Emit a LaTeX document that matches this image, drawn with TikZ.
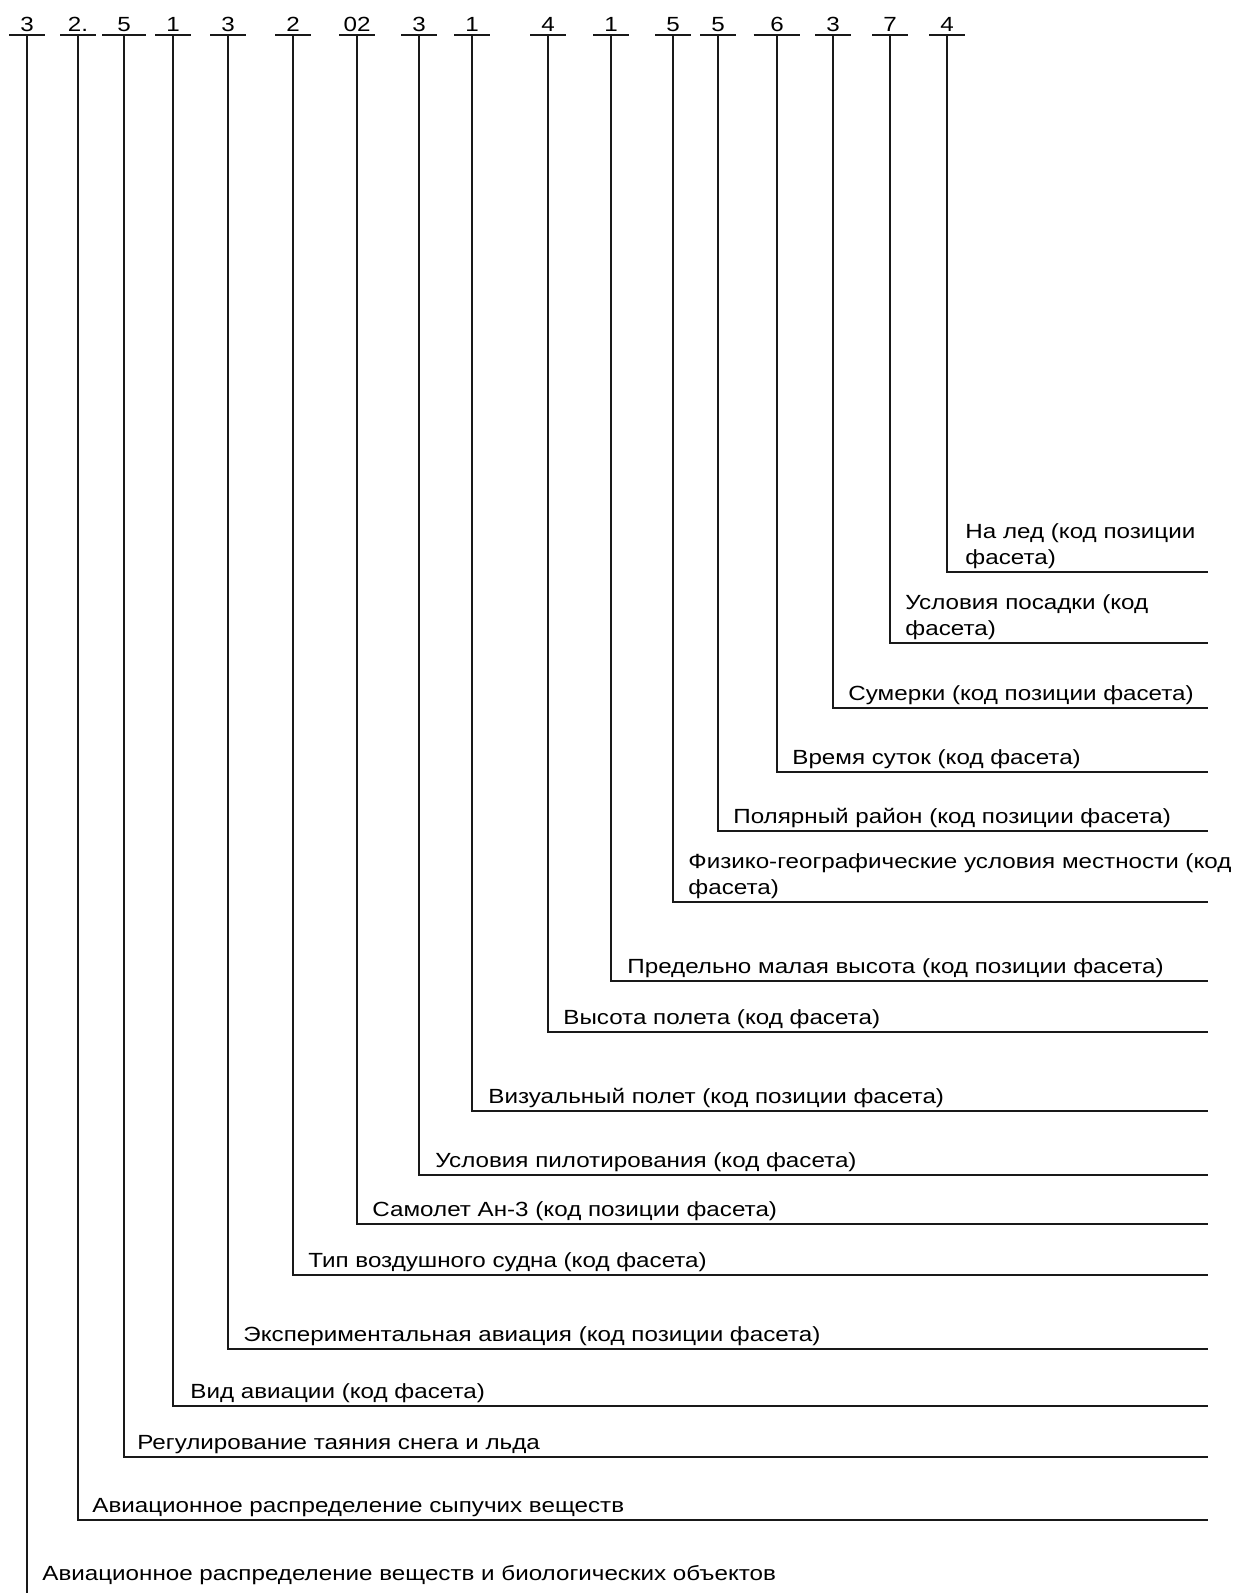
\documentclass[tikz,border=0pt]{standalone}
\usepackage{fontspec}
\setmainfont{Liberation Sans}[FakeStretch=1.18]

\begin{document}
\begin{tikzpicture}[x=0.5pt,y=-0.5pt]
        \tikzstyle{digit}=[anchor=south, inner xsep=0pt, inner ysep=1.5pt, minimum width=17.5pt, font=\fontsize{10.25}{13}\selectfont]
        \tikzstyle{lbl}=[anchor=base west, inner sep=0pt, align=left, font=\fontsize{10.25}{13}\selectfont]
        \tikzstyle{rule}=[line width=1pt, black!90]

        \useasboundingbox (0,0) rectangle (1241,1593);

        % code digits on top
        \node[digit] (d1)  at (27,35)  {3};
        \node[digit] (d2)  at (78,35)  {2.};
        \node[digit, minimum width=21.5pt] (d3) at (124,35) {5};
        \node[digit] (d4)  at (173,35) {1};
        \node[digit] (d5)  at (228,35) {3};
        \node[digit] (d6)  at (293,35) {2};
        \node[digit] (d7)  at (357,35) {02};
        \node[digit] (d8)  at (419,35) {3};
        \node[digit] (d9)  at (472,35) {1};
        \node[digit] (d10) at (548,35) {4};
        \node[digit] (d11) at (611,35) {1};
        \node[digit] (d12) at (673,35) {5};
        \node[digit] (d13) at (718,35) {5};
        \node[digit, minimum width=23pt] (d14) at (777,35) {6};
        \node[digit] (d15) at (833,35) {3};
        \node[digit] (d16) at (890,35) {7};
        \node[digit] (d17) at (947,35) {4};

        % right ends of the rules
        \coordinate (e1)  at (27,1593);
        \coordinate (e2)  at (1208,1520);
        \coordinate (e3)  at (1208,1457);
        \coordinate (e4)  at (1208,1406);
        \coordinate (e5)  at (1208,1349);
        \coordinate (e6)  at (1208,1275);
        \coordinate (e7)  at (1208,1224);
        \coordinate (e8)  at (1208,1175);
        \coordinate (e9)  at (1208,1111);
        \coordinate (e10) at (1208,1032);
        \coordinate (e11) at (1208,981);
        \coordinate (e12) at (1208,902);
        \coordinate (e13) at (1208,831);
        \coordinate (e14) at (1208,772);
        \coordinate (e15) at (1208,708);
        \coordinate (e16) at (1208,643);
        \coordinate (e17) at (1208,572);

        % labels
        \node[lbl] (l1)  at (42,1580)  {Авиационное распределение веществ и биологических объектов};
        \node[lbl] (l2)  at (92,1512)  {Авиационное распределение сыпучих веществ};
        \node[lbl] (l3)  at (137,1449) {Регулирование таяния снега и льда};
        \node[lbl] (l4)  at (190,1398) {Вид авиации (код фасета)};
        \node[lbl] (l5)  at (243,1341) {Экспериментальная авиация (код позиции фасета)};
        \node[lbl] (l6)  at (308,1267) {Тип воздушного судна (код фасета)};
        \node[lbl] (l7)  at (372,1216) {Самолет Ан-3 (код позиции фасета)};
        \node[lbl] (l8)  at (435,1167) {Условия пилотирования (код фасета)};
        \node[lbl] (l9)  at (488,1103) {Визуальный полет (код позиции фасета)};
        \node[lbl] (l10) at (563,1024) {Высота полета (код фасета)};
        \node[lbl] (l11) at (627,973)  {Предельно малая высота (код позиции фасета)};
        \node[lbl] (l12) at (688,894)  {Физико-географические условия местности (код\\фасета)};
        \node[lbl] (l13) at (733,823)  {Полярный район (код позиции фасета)};
        \node[lbl] (l14) at (792,764)  {Время суток (код фасета)};
        \node[lbl] (l15) at (848,700)  {Сумерки (код позиции фасета)};
        \node[lbl] (l16) at (905,635)  {Условия посадки (код\\фасета)};
        \node[lbl] (l17) at (965,564)  {На лед (код позиции\\фасета)};

        % underlines and rules
        \foreach \i in {1,...,17}
            \draw[rule] (d\i.south west) -- (d\i.south east);
        \draw[rule] (d1.south) -- (e1);
        \foreach \i in {2,...,17}
            \draw[rule] (d\i.south) |- (e\i);
    \end{tikzpicture}
\end{document}
